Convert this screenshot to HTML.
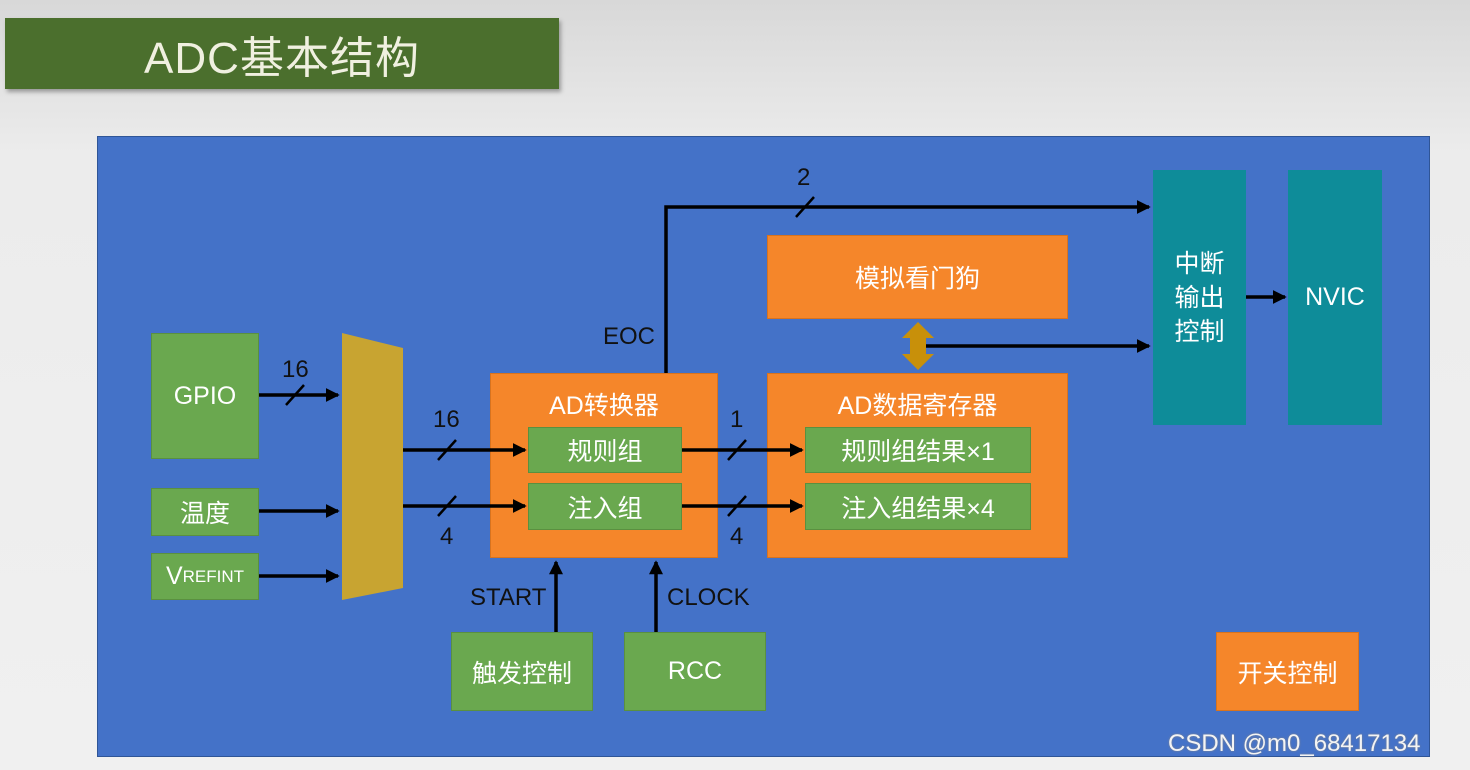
<!DOCTYPE html>
<html><head><meta charset="utf-8"><style>
body{margin:0;width:1470px;height:770px;overflow:hidden;background:linear-gradient(#d8d8d8,#ececec 20%,#f0f0f0);font-family:"Liberation Sans","Noto Sans CJK SC",sans-serif;position:relative}
.b{position:absolute;display:flex;align-items:center;justify-content:center;color:#fff;font-size:25px;box-sizing:border-box}
.g{background:#6aa84f;border:1px solid #5a9040}
.o{background:#f5862a;border:1px solid #d8731e}
.t{background:#0e8c99}
.l{position:absolute;color:#111;font-size:24px}
</style></head><body>
<div class="b" style="left:5px;top:18px;width:554px;height:71px;background:#4b6f2d;font-size:44px;color:#f0f0e0;box-shadow:2px 3px 4px #999;letter-spacing:1px">ADC基本结构</div>
<div style="position:absolute;left:97px;top:136px;width:1333px;height:621px;background:#4472c8;border:1px solid #2f5597;box-sizing:border-box"></div>
<div class="b g" style="left:151px;top:333px;width:108px;height:126px">GPIO</div>
<div class="b g" style="left:151px;top:488px;width:108px;height:48px">温度</div>
<div class="b g" style="left:151px;top:553px;width:108px;height:47px">V<sub style="font-size:17px;vertical-align:-8px">REFINT</sub></div>
<div class="b o" style="left:490px;top:373px;width:228px;height:185px;align-items:flex-start;padding-top:12px">AD转换器</div>
<div class="b g" style="left:528px;top:427px;width:154px;height:46px">规则组</div>
<div class="b g" style="left:528px;top:483px;width:154px;height:47px">注入组</div>
<div class="b o" style="left:767px;top:373px;width:301px;height:185px;align-items:flex-start;padding-top:12px">AD数据寄存器</div>
<div class="b g" style="left:805px;top:427px;width:226px;height:46px">规则组结果×1</div>
<div class="b g" style="left:805px;top:483px;width:226px;height:47px">注入组结果×4</div>
<div class="b o" style="left:767px;top:235px;width:301px;height:84px">模拟看门狗</div>
<div class="b t" style="left:1153px;top:170px;width:93px;height:255px;line-height:34px;text-align:center">中断<br>输出<br>控制</div>
<div class="b t" style="left:1288px;top:170px;width:94px;height:255px">NVIC</div>
<div class="b g" style="left:451px;top:632px;width:142px;height:79px">触发控制</div>
<div class="b g" style="left:624px;top:632px;width:142px;height:79px">RCC</div>
<div class="b o" style="left:1216px;top:632px;width:143px;height:79px">开关控制</div>
<svg style="position:absolute;left:0;top:0" width="1470" height="770">
<defs><marker id="a" markerWidth="4" markerHeight="4" refX="3.5" refY="2" orient="auto"><path d="M0,0L4,2L0,4z" fill="#000"/></marker></defs>
<polygon points="342,333 403,348 403,588 342,600" fill="#c8a431"/>
<g stroke="#000" stroke-width="3.5" fill="none">
<path d="M259,395H338" marker-end="url(#a)"/><path d="M259,511H338" marker-end="url(#a)"/><path d="M259,576H338" marker-end="url(#a)"/>
<path d="M403,450H525" marker-end="url(#a)"/><path d="M403,506H525" marker-end="url(#a)"/>
<path d="M682,450H802" marker-end="url(#a)"/><path d="M682,506H802" marker-end="url(#a)"/>
<path d="M666,373V207H1149" marker-end="url(#a)"/>
<path d="M925,346H1149" marker-end="url(#a)"/>
<path d="M1246,297H1285" marker-end="url(#a)"/>
<path d="M556,632V562" marker-end="url(#a)"/><path d="M656,632V562" marker-end="url(#a)"/>
</g>
<g stroke="#000" stroke-width="2.5">
<line x1="286" y1="405" x2="304" y2="385"/><line x1="438" y1="460" x2="456" y2="440"/><line x1="438" y1="516" x2="456" y2="496"/>
<line x1="728" y1="460" x2="746" y2="440"/><line x1="728" y1="516" x2="746" y2="496"/><line x1="796" y1="217" x2="814" y2="197"/>
</g>
<polygon points="918,322 934,338 926,338 926,354 934,354 918,370 902,354 910,354 910,338 902,338" fill="#c8900a"/>
</svg>
<div class="l" style="left:282px;top:356px">16</div>
<div class="l" style="left:433px;top:406px">16</div>
<div class="l" style="left:440px;top:523px">4</div>
<div class="l" style="left:730px;top:406px">1</div>
<div class="l" style="left:730px;top:523px">4</div>
<div class="l" style="left:797px;top:164px">2</div>
<div class="l" style="left:603px;top:323px">EOC</div>
<div class="l" style="left:470px;top:584px">START</div>
<div class="l" style="left:667px;top:584px">CLOCK</div>
<div style="position:absolute;left:1168px;top:730px;font-size:24px;color:#f4f4f4;text-shadow:0 0 2px #888">CSDN @m0_68417134</div>
</body></html>
